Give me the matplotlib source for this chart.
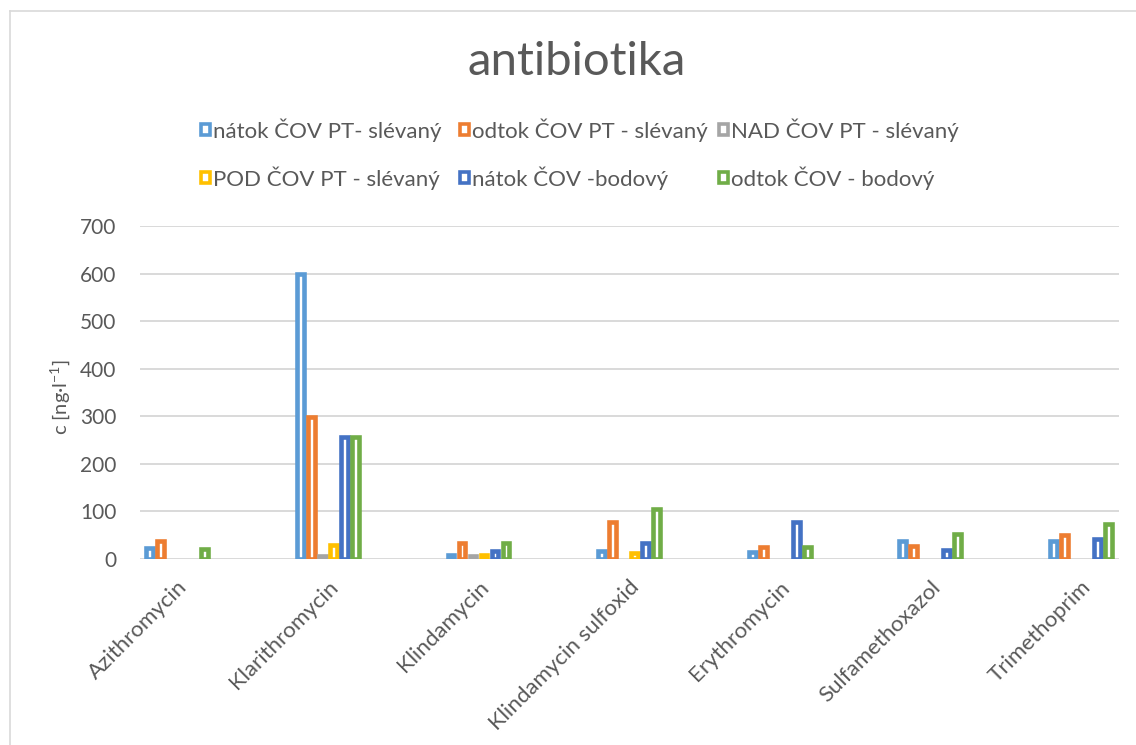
import numpy as np
import matplotlib
matplotlib.use("Agg")
import matplotlib.pyplot as plt
from matplotlib.patches import Patch
from matplotlib.lines import Line2D

plt.rcParams['font.family'] = ['Lato', 'DejaVu Sans']
plt.rcParams['mathtext.default'] = 'regular'

categories = ["Azithromycin", "Klarithromycin", "Klindamycin", "Klindamycin sulfoxid",
              "Erythromycin", "Sulfamethoxazol", "Trimethoprim"]
series_names = ["nátok ČOV PT- slévaný", "odtok ČOV PT - slévaný", "NAD ČOV PT - slévaný",
                "POD ČOV PT - slévaný", "nátok ČOV -bodový", "odtok ČOV - bodový"]
natok_pt = [23, 600, 9, 17, 14, 38, 38]
odtok_pt = [38, 299, 34, 77, 26, 28, 50]
nad_pt = [0, 6, 6, 0, 0, 0, 0]
pod_pt = [0, 29, 8, 12, 0, 0, 0]
natok_bod = [0, 256, 17, 34, 78, 19, 41]
odtok_bod = [22, 256, 33, 105, 25, 53, 74]
yticks = [0, 100, 200, 300, 400, 500, 600, 700]

series = [natok_pt, odtok_pt, nad_pt, pod_pt, natok_bod, odtok_bod]
colors = ["#5B9BD5", "#ED7D31", "#A5A5A5", "#FFC000", "#4472C4", "#70AD47"]

W, H = 1136, 745
fig = plt.figure(figsize=(W / 100, H / 100), dpi=100)
ax = fig.add_axes([140 / W, 186 / H, 979 / W, 333 / H])

x = np.arange(len(categories))
slot = 11 / 150.6          # width of one bar slot in category units
bw = 6.8 / 150.6           # drawn bar width (edge adds the rest)
lw_pt = 4.6 * 72 / 100
for k, (vals, col) in enumerate(zip(series, colors)):
    vals = np.asarray(vals, dtype=float)
    offs = (k - 2.5) * slot
    m = vals > 0
    ax.bar(x[m] + offs, vals[m], width=bw, facecolor="white", edgecolor=col,
           linewidth=lw_pt, zorder=3, joinstyle="miter")

ax.set_xlim((140 - 177.3) / 150.6, (1119 - 177.3) / 150.6)
ax.set_ylim(0, 700)
ax.set_yticks(yticks)
ax.yaxis.grid(True, color="#D9D9D9", linewidth=1.4, zorder=0)
ax.set_axisbelow(True)
for s in ax.spines.values():
    s.set_visible(False)
ax.tick_params(axis="both", length=0, colors="#595959", labelsize=15)
ax.tick_params(axis="y", pad=17)
ax.set_xticks(x)
ax.set_xticklabels(categories, rotation=45, ha="right", va="top",
                   rotation_mode="anchor", color="#595959", fontsize=16)
ax.tick_params(axis="x", pad=13)

fig.text(60 / W, 1 - 397 / H, r"c [ng·l$^{-1}$]", rotation=90, ha="center",
         va="center", color="#595959", fontsize=14.5)

fig.text(577 / W, 1 - 62 / H, "antibiotika", ha="center", va="center",
         color="#595959", fontsize=34)

# legend entries, one per position
fs = 16
fs_px = fs * 100 / 72
pos = [(201, 130), (460, 130), (719, 130), (201, 178), (460, 178), (719, 178)]
for name, col, (px, py) in zip(series_names, colors, pos):
    h = Patch(facecolor="white", edgecolor=col, linewidth=2.6, joinstyle="miter")
    fig.legend([h], [name], loc="center left", bbox_to_anchor=(px / W, 1 - py / H),
               frameon=False, fontsize=fs, labelcolor="#595959",
               handlelength=9 / fs_px, handleheight=9 / fs_px, handletextpad=0.12,
               borderpad=0, borderaxespad=0)

# chart border (left and top visible)
fig.add_artist(Line2D([10 / W, 10 / W], [0, 1 - 11 / H], color="#D9D9D9", linewidth=1.2))
fig.add_artist(Line2D([10 / W, 1], [1 - 11 / H, 1 - 11 / H], color="#D9D9D9", linewidth=1.2))

fig.savefig("out.png", dpi=100)
